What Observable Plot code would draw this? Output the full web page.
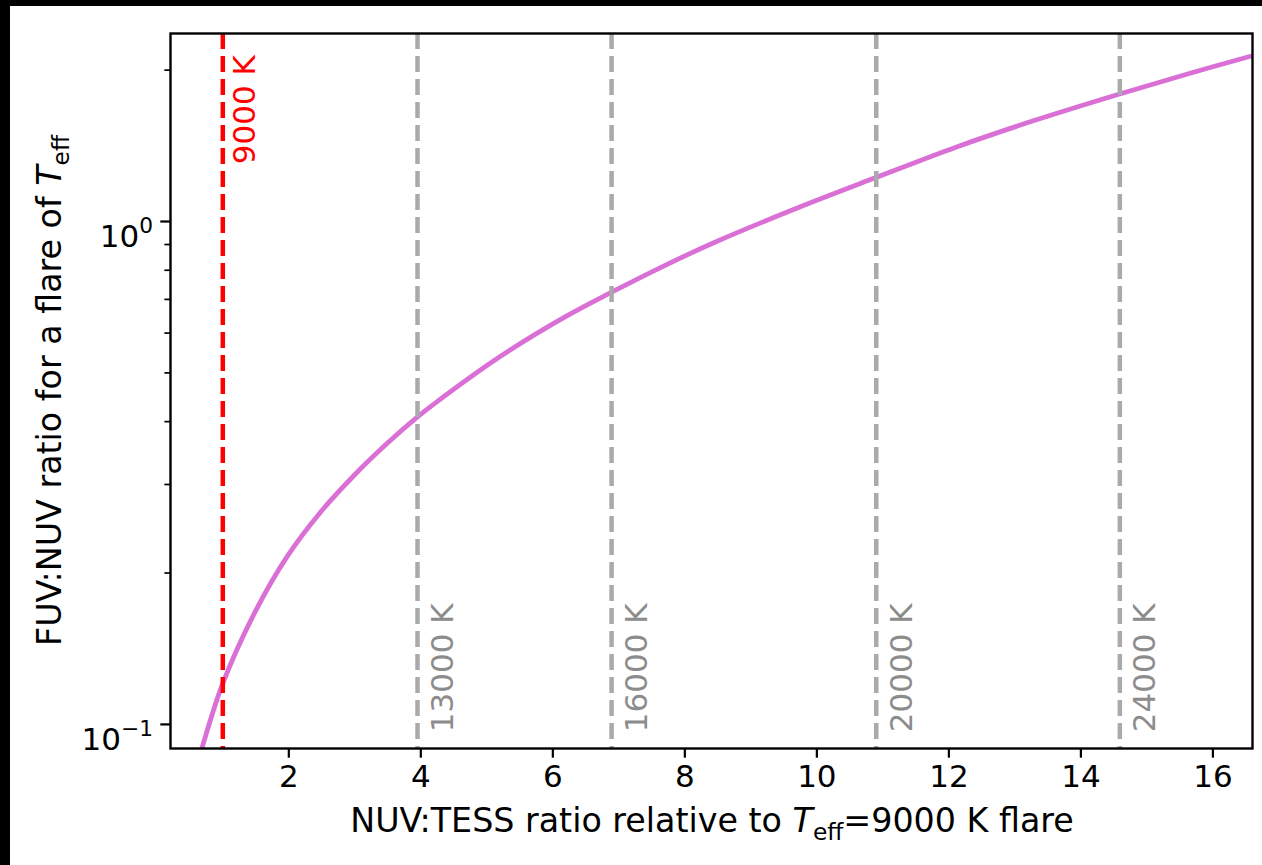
<!DOCTYPE html>
<html><head><meta charset="utf-8">
<script src="https://cdn.jsdelivr.net/npm/d3@7"></script>
<script src="https://cdn.jsdelivr.net/npm/@observablehq/plot@0.6"></script>
<style>
html,body{margin:0;padding:0;background:#000;width:1262px;height:865px;overflow:hidden}
#chart{position:absolute;left:10px;top:6px;width:1252px;height:859px;background:#fff}
svg{display:block}
</style></head><body><div id="chart"></div>
<script>
// Curve: NUV:TESS ratio (relative to 9000 K) vs FUV:NUV ratio
const nuvTessRatio = [0.632, 0.688, 0.991, 1.470, 1.976, 2.480, 2.980, 3.491, 3.945, 4.197, 5.208, 6.218, 6.889, 7.733, 8.541, 9.723, 10.905, 12.117, 13.314, 14.587, 15.707, 16.600, 16.750];
const fuvNuvRatio  = [0.0852, 0.0901, 0.1198, 0.1655, 0.2158, 0.2642, 0.3119, 0.3622, 0.4083, 0.4335, 0.5395, 0.6497, 0.7234, 0.8221, 0.9197, 1.066, 1.224, 1.407, 1.591, 1.793, 1.981, 2.136, 2.163];

// Reference temperatures
const tempLabels  = ["9000 K", "13000 K", "16000 K", "20000 K", "24000 K"];
const tempNuvTess = [1.0, 3.95, 6.89, 10.9, 14.59];

// Ticks
const xTicks = [2, 4, 6, 8, 10, 12, 14, 16];
const yMajorTicks = [0.1, 1];
const yMajorLabels = ["10^−1", "10^0"];
const yMinorTicks = [0.2, 0.3, 0.4, 0.5, 0.6, 0.7, 0.8, 0.9, 2];

const curve = nuvTessRatio.map((x, i) => ({x, y: fuvNuvRatio[i]}));
const temps = tempLabels.map((label, i) => ({label, x: tempNuvTess[i]}));
const refTemp = temps.slice(0, 1);
const otherTemps = temps.slice(1);

const TICKFONT = 31;
const LABELFONT = 33.3;
const dash = "16,7";

const plot = Plot.plot({
  width: 1252, height: 859,
  marginTop: 27, marginLeft: 160, marginRight: 10, marginBottom: 117,
  style: {fontFamily: "DejaVu Sans", background: "white", color: "black", overflow: "visible"},
  x: {domain: [0.2076, 16.6]},
  y: {type: "log", domain: [0.08956, 2.365]},
  marks: [
    Plot.line(curve, {x: "x", y: "y", stroke: "#da70d6", strokeWidth: 4.8, curve: "catmull-rom", clip: true}),
    Plot.ruleX(otherTemps, {x: "x", stroke: "#aaaaaa", strokeWidth: 4.5, strokeDasharray: dash}),
    Plot.ruleX(refTemp, {x: "x", stroke: "#ff0000", strokeWidth: 4.5, strokeDasharray: dash}),
    Plot.text(otherTemps, {x: "x", y: () => 0.0965, text: "label", rotate: -90, textAnchor: "start", dx: 25.5, fill: "#8c8c8c", fontSize: TICKFONT}),
    Plot.text(refTemp, {x: "x", y: () => 1.3, text: "label", rotate: -90, textAnchor: "start", dx: 22.5, fill: "#ff0000", fontSize: TICKFONT}),
    Plot.axisX({ticks: xTicks, tickSize: 9.7, tickPadding: 7, fontSize: TICKFONT, label: null, strokeWidth: 2.2}),
    Plot.axisY({ticks: yMajorTicks, tickFormat: d => yMajorLabels[yMajorTicks.indexOf(d)], tickSize: 9.7, tickPadding: 7.8, fontSize: TICKFONT, label: null, strokeWidth: 2.2}),
    Plot.axisY({ticks: yMinorTicks, tickSize: 5.6, text: null, label: null, strokeWidth: 1.7}),
    Plot.frame({stroke: "black", strokeWidth: 2.4})
  ]
});
document.getElementById("chart").appendChild(plot);

const svg = d3.select(plot);

// Turn "10^e" tick labels into base + superscript
svg.selectAll('g[aria-label="y-axis tick label"] text').each(function () {
  const t = d3.select(this);
  const parts = t.text().split("^");
  if (parts.length !== 2) return;
  t.text(null);
  t.attr("dy", "0.5em");
  t.append("tspan").text(parts[0]);
  t.append("tspan").attr("font-size", TICKFONT * 0.7).attr("dy", -14).text(parts[1]);
});

// X axis label
const xl = svg.append("text")
  .attr("x", 702).attr("y", 826)
  .attr("text-anchor", "middle")
  .attr("font-family", "DejaVu Sans").attr("font-size", LABELFONT).attr("fill", "black");
xl.append("tspan").text("NUV:TESS ratio relative to ");
xl.append("tspan").attr("font-style", "italic").text("T");
xl.append("tspan").attr("font-size", LABELFONT * 0.7).attr("dy", 7.5).text("eff");
xl.append("tspan").attr("dy", -7.5).text("=9000 K flare");

// Y axis label
const yl = svg.append("text")
  .attr("transform", "translate(51,384.5) rotate(-90)")
  .attr("text-anchor", "middle")
  .attr("font-family", "DejaVu Sans").attr("font-size", LABELFONT).attr("fill", "black");
yl.append("tspan").text("FUV:NUV ratio for a flare of ");
yl.append("tspan").attr("font-style", "italic").text("T");
yl.append("tspan").attr("font-size", LABELFONT * 0.7).attr("dy", 7.5).text("eff");
</script>
</body></html>
